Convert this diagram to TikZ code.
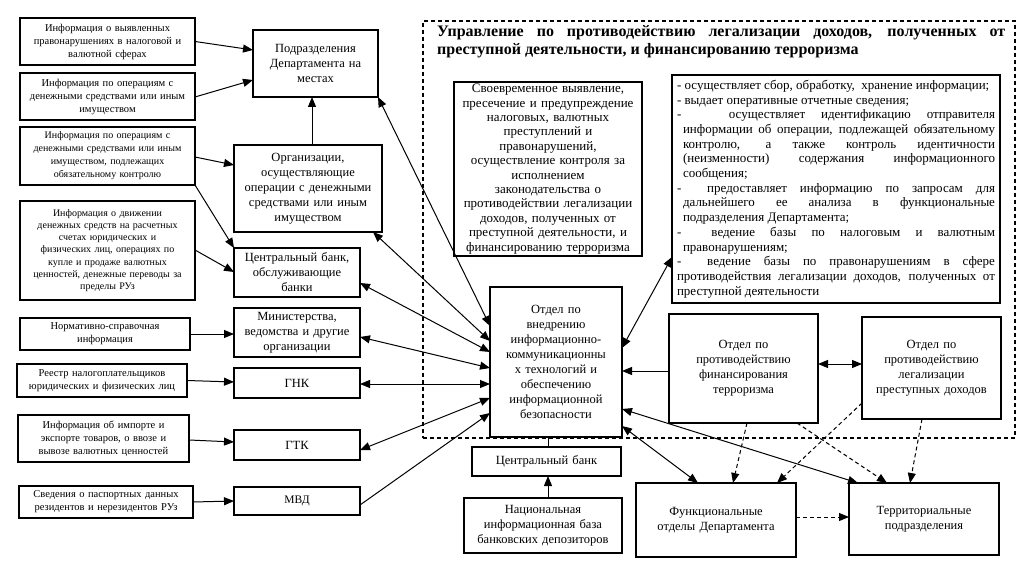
\documentclass[tikz,border=0pt]{standalone}
\usepackage{fontspec}
\setmainfont{Liberation Serif}
\usetikzlibrary{arrows.meta}

\newcommand{\dashitem}{\par\hangindent=6pt\hangafter=1 -\ }

\tikzset{
  box/.style={draw,line width=1.1pt,outer sep=0pt,inner xsep=0pt,inner ysep=2pt,align=center,anchor=north west},
  wh/.style 2 args={minimum width=#1pt,text width=#1pt,minimum height=#2pt},
  info/.style={font=\fontsize{10.5}{13}\selectfont},
  unit/.style={font=\fontsize{12.5}{15}\selectfont},
  tip/.tip={Triangle[length=10pt,width=8pt]},
  arr/.style={line width=1pt,-tip},
  darr/.style={line width=1pt,tip-tip},
  dasharr/.style={line width=1pt,dash pattern=on 4pt off 3pt,-tip},
}

\begin{document}
\begin{tikzpicture}[x=1pt,y=1pt]
\useasboundingbox (0,0) rectangle (1033,-585);
% Управление
\node[draw,line width=1.2pt,dash pattern=on 4pt off 3pt,outer sep=0pt,anchor=north west,minimum width=592pt,minimum height=417pt] (upr) at (423,-21) {};
\node[anchor=north west,inner sep=0pt,text width=568pt,align=justify,font=\bfseries\fontsize{16}{18}\selectfont] (title) at (437,-25)
  {Управление по противодействию легализации доходов, полученных от\linebreak преступной деятельности, и финансированию терроризма};

% left column
\node[box,info,wh={175}{47}] (i1) at (20,-18) {Информация о выявленных\\правонарушениях в налоговой и\\валютной сферах};
\node[box,info,wh={175}{47}] (i2) at (20,-73) {Информация по операциям с\\денежными средствами или иным\\имуществом};
\node[box,info,font=\fontsize{10}{13}\selectfont,wh={175}{58}] (i3) at (20,-127) {Информация по операциям с\\денежными средствами или иным\\имуществом, подлежащих\\обязательному контролю};
\node[box,info,font=\fontsize{10}{12.2}\selectfont,wh={175}{99}] (i4) at (20,-201) {Информация о движении\\денежных средств на расчетных\\счетах юридических и\\физических лиц, операциях по\\купле и продаже валютных\\ценностей, денежные переводы за\\пределы РУз};
\node[box,info,wh={170}{32}] (i5) at (20,-318) {Нормативно-справочная\\информация};
\node[box,info,wh={170}{33}] (i6) at (17,-364) {Реестр налогоплательщиков\\юридических и физических лиц};
\node[box,info,wh={171}{47}] (i7) at (18,-415) {Информация об импорте и\\экспорте товаров, о ввозе и\\вывозе валютных ценностей};
\node[box,info,wh={174}{32}] (i8) at (19,-486) {Сведения о паспортных данных\\резидентов и нерезидентов РУз};

% middle column
\node[box,unit,wh={125}{67}] (pod) at (253,-30) {Подразделения\\Департамента на\\местах};
\node[box,unit,wh={148}{87}] (org) at (234,-145) {Организации,\\осуществляющие\\операции с денежными\\средствами или иным\\имуществом};
\node[box,unit,wh={126}{49}] (cb) at (234,-248) {Центральный банк,\\обслуживающие\\банки};
\node[box,unit,wh={126}{49}] (min) at (234,-308) {Министерства,\\ведомства и другие\\организации};
\node[box,unit,wh={126}{30}] (gnk) at (234,-368) {ГНК};
\node[box,unit,wh={126}{30}] (gtk) at (234,-430) {ГТК};
\node[box,unit,font=\fontsize{11.5}{14}\selectfont,wh={126}{28}] (mvd) at (234,-487) {МВД};

% right part
\node[box,unit,font=\fontsize{13}{14.4}\selectfont,wh={188}{174}] (goal) at (454,-82) {Своевременное выявление,\\пресечение и предупреждение\\налоговых, валютных\\преступлений и\\правонарушений,\\осуществление контроля за\\исполнением\\законодательства о\\противодействии легализации\\доходов, полученных от\\преступной деятельности, и\\финансированию терроризма};
\node[box,font=\fontsize{13}{14.7}\selectfont,minimum width=328pt,minimum height=228pt,text width=318pt,inner xsep=5pt,align=justify] (func) at (672,-75)
  {- осуществляет сбор, обработку,\ \ хранение информации;
   \dashitem выдает оперативные отчетные сведения;
   \dashitem\ \ осуществляет идентификацию отправителя\linebreak информации об операции, подлежащей обязательному\linebreak контролю, а также контроль идентичности\linebreak (неизменности) содержания информационного\linebreak сообщения;
   \dashitem\ предоставляет информацию по запросам для\linebreak дальнейшего ее анализа в функциональные\linebreak подразделения Департамента;
   \dashitem\ ведение базы по налоговым и валютным\linebreak правонарушениям;
   \dashitem\ ведение базы по правонарушениям в сфере\linebreak противодействия легализации доходов, полученных от\linebreak преступной деятельности};
\node[box,unit,wh={132}{150}] (otd) at (490,-287) {Отдел по\\внедрению\\информационно-\\коммуникационны\\х технологий и\\обеспечению\\информационной\\безопасности};
\node[box,unit,wh={149}{29}] (cbl) at (472,-447) {Центральный банк};
\node[box,unit,wh={158}{55}] (nib) at (464,-498) {Национальная\\информационная база\\банковских депозиторов};
\node[box,unit,wh={149}{109}] (ft) at (669,-314) {Отдел по\\противодействию\\финансирования\\терроризма};
\node[box,unit,wh={139}{102}] (lp) at (862,-317) {Отдел по\\противодействию\\легализации\\преступных доходов};
\node[box,unit,wh={160}{74}] (fd) at (636,-483) {Функциональные\\отделы Департамента};
\node[box,unit,wh={150}{72}] (tp) at (849,-483) {Территориальные\\подразделения};

% inputs
\draw[arr] (i1.east) -- (pod.west |- 0,-50);
\draw[arr] (i2.east |- 0,-97) -- (pod.west |- 0,-80);
\draw[arr] (i3.east |- 0,-157) -- (org.west |- 0,-165);
\draw[arr] (i3.south east) -- (cb.north west);
\draw[arr] (i4.east |- 0,-250) -- (cb.west |- 0,-272);
\draw[arr] (i5.east) -- (min.west |- i5.east);
\draw[arr] (i6.east) -- (gnk.west |- 0,-382);
\draw[arr] (i7.east |- 0,-440) -- (gtk.west |- 0,-442);
\draw[arr] (i8.east) -- (mvd.west |- 0,-501);
\draw[arr] (org.north -| 312,0) -- (pod.south -| 312,0);

% to the department
\draw[darr] (pod.south east) -- (otd.west |- 0,-326);
\draw[darr] (org.south -| 373,0) -- (otd.west |- 0,-341);
\draw[darr] (cb.east |- 0,-283) -- (otd.west |- 0,-352);
\draw[darr] (min.east |- 0,-337) -- (otd.west |- 0,-368);
\draw[darr] (gnk.east |- 0,-384) -- (otd.west |- 0,-384);
\draw[darr] (gtk.east |- 0,-450) -- (otd.west |- 0,-398);
\draw[arr] (mvd.east |- 0,-505) -- (otd.west |- 0,-413);
\draw[line width=1pt] (cbl.north -| 548,0) -- (otd.south -| 548,0);
\draw[arr] (nib.north -| 548,0) -- (cbl.south -| 548,0);

\draw[darr] (otd.east |- 0,-348) -- (func.west |- 0,-257);
\draw[arr] (ft.west |- 0,-371) -- (otd.east |- 0,-371);
\draw[darr] (ft.east |- 0,-364) -- (lp.west |- 0,-364);
\draw[darr] (otd.east |- 0,-409) -- (tp.north -| 858,0);
\draw[darr] (otd.east |- 0,-426) -- (fd.north -| 698,0);

\draw[dasharr] (ft.south -| 747,0) -- (fd.north -| 733,0);
\draw[dasharr] (ft.south -| 797,0) -- (tp.north -| 887,0);
\draw[dasharr] (lp.west |- 0,-403) -- (fd.north -| 777,0);
\draw[dasharr] (lp.south -| 922,0) -- (tp.north -| 910,0);
\draw[dasharr] (fd.east |- 0,-517) -- (tp.west |- 0,-517);
\end{tikzpicture}
\end{document}
